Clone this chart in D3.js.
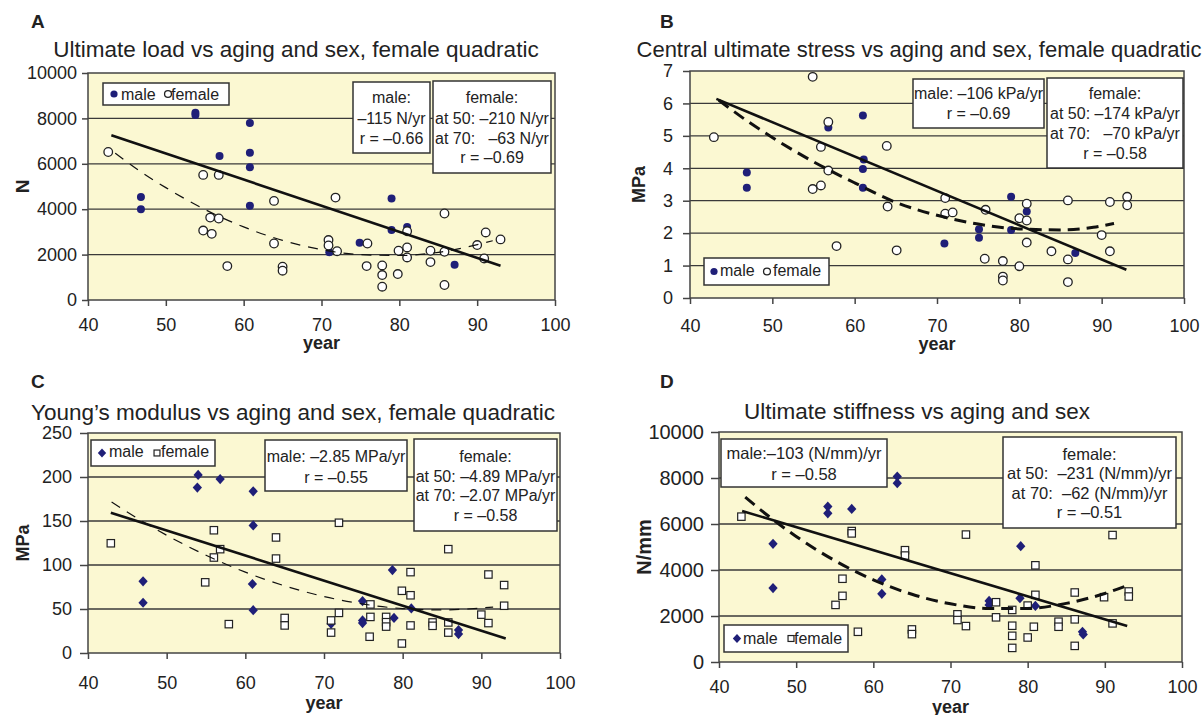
<!DOCTYPE html>
<html><head><meta charset="utf-8">
<script src="https://cdn.jsdelivr.net/npm/d3@7"></script>
<style>
body{margin:0;background:#fff}
svg{display:block}
text{font-family:"Liberation Sans",Arial,sans-serif;fill:#222}
</style>
</head><body>
<svg id="chart" width="1204" height="715"></svg>
<script>
// ---------- shared ----------
const xTicks = [40, 50, 60, 70, 80, 90, 100];
const legendLabels = ["male", "female"];

// ---------- Panel A : Ultimate load ----------
const aTitle = "Ultimate load vs aging and sex, female quadratic";
const aYTicks = [0, 2000, 4000, 6000, 8000, 10000];
const aMale = [[46.8,4540],[46.8,4000],[53.8,8250],[53.8,8150],[56.9,6340],[60.8,7800],[60.8,6490],[60.8,5850],[60.8,4150],[71,2100],[74.9,2520],[79,4470],[79,3080],[81,3220],[87.1,1550]];
const aFemale = [[42.6,6520],[54.8,5510],[56.8,5510],[55.7,3630],[56.8,3590],[54.8,3060],[55.9,2915],[57.9,1494],[63.9,4365],[63.9,2490],[65,1465],[65,1290],[70.9,2640],[70.9,2400],[71.8,4510],[72,2150],[75.9,2490],[75.8,1494],[77.8,1524],[77.8,1100],[77.8,586],[79.8,1143],[79.9,2170],[81,3030],[81,2315],[81,1875],[84,2170],[84,1670],[85.8,3810],[85.8,2125],[85.8,660],[90,2420],[91.1,2975],[90.9,1830],[93,2670]];
const aMaleFit = [[43,7260],[93,1510]];
const aFemaleFit = [[43.5,6470],[47,5600],[50,4950],[55,3990],[60,3220],[65,2630],[70,2220],[75,2000],[80,1960],[85,2100],[92,2610]];
const aMaleBox = ["male:", "\u2013115 N/yr", "r = \u20130.66"];
const aFemaleBox = ["female:", "at 50: \u2013210 N/yr", "at 70:   \u201363 N/yr", "r = \u20130.69"];

// ---------- Panel B : Central ultimate stress ----------
const bTitle = "Central ultimate stress vs aging and sex, female quadratic";
const bYTicks = [0, 1, 2, 3, 4, 5, 6, 7];
const bMale = [[46.9,3.87],[46.9,3.4],[56.8,5.26],[61,5.63],[61.1,4.27],[61,3.98],[61,3.4],[70.9,1.68],[75.1,2.12],[75.1,1.86],[79,3.12],[79,2.1],[80.9,2.67],[86.8,1.39]];
const bFemale = [[42.9,4.96],[54.9,6.82],[56.8,5.43],[55.9,4.66],[56.8,3.93],[63.9,4.69],[54.9,3.36],[55.9,3.47],[57.8,1.6],[64,2.82],[65.1,1.47],[71,3.08],[71,2.6],[71.9,2.64],[75.9,2.72],[75.8,1.21],[78,1.14],[78,0.66],[78,0.54],[80,2.46],[80,0.98],[80.9,2.91],[80.9,2.39],[80.9,1.71],[83.9,1.44],[85.9,3.01],[85.9,1.19],[85.9,0.49],[90,1.94],[91,2.96],[91,1.44],[93.1,3.12],[93.1,2.86]];
const bMaleFit = [[43.2,6.14],[93,0.87]];
const bFemaleFit = [[43.5,6.1],[47,5.45],[50,4.95],[55,4.2],[60,3.55],[65,2.95],[70,2.55],[75,2.28],[80,2.13],[85,2.1],[89,2.18],[91.5,2.3]];
const bMaleBox = ["male: \u2013106 kPa/yr", "r = \u20130.69"];
const bFemaleBox = ["female:", "at 50: \u2013174 kPa/yr", "at 70:   \u201370 kPa/yr", "r = \u20130.58"];

// ---------- Panel C : Young's modulus ----------
const cTitle = "Young\u2019s modulus vs aging and sex, female quadratic";
const cYTicks = [0, 50, 100, 150, 200, 250];
const cMale = [[47,81.5],[47,57.1],[53.9,188],[54,202.4],[56.8,197.6],[60.9,78.4],[61,48.6],[61,183.7],[61,145],[70.9,33.2],[74.9,59],[74.9,37],[74.9,34],[78.7,94.2],[78.9,39.8],[81.1,50.6],[87.1,26],[87.1,21.5]];
const cFemale = [[42.9,124.7],[54.9,80.3],[56,139.5],[56,108.5],[56.8,118],[57.9,32.8],[63.9,131.3],[63.9,107.3],[65,39.8],[65,31.3],[70.9,37],[70.9,23.2],[71.9,148],[71.9,45.6],[75.9,55.2],[75.9,41],[75.8,18.5],[77.9,41],[77.9,35],[77.9,30],[79.9,70.7],[79.9,10.8],[81,91.9],[81,65.6],[81,31.3],[83.8,34.7],[83.8,30.9],[85.8,118],[85.8,34.7],[85.8,23.2],[90,43.6],[90.9,89.2],[90.9,34],[92.9,77.2],[92.9,53.7]];
const cMaleFit = [[42.9,159.4],[93.1,16.6]];
const cFemaleFit = [[43,171.5],[46,154.5],[50,133.8],[55,111.1],[60,91.9],[65,76.3],[70,64.2],[75,55.6],[80,50.5],[85,49],[91.5,52.2]];
const cMaleBox = ["male: \u20132.85 MPa/yr", "r = \u20130.55"];
const cFemaleBox = ["female:", "at 50: \u20134.89 MPa/yr", "at 70: \u20132.07 MPa/yr", "r = \u20130.58"];

// ---------- Panel D : Ultimate stiffness ----------
const dTitle = "Ultimate stiffness vs aging and sex";
const dYTicks = [0, 2000, 4000, 6000, 8000, 10000];
const dMale = [[47,5139],[47,3212],[54.1,6756],[54.1,6465],[57.2,6655],[61.1,3591],[61.1,2964],[63.1,8065],[63.1,7775],[75,2657],[75,2482],[79.1,5036],[79,2774],[81,2438],[87.1,1314],[87.2,1197]];
const dFemale = [[42.9,6320],[55.1,2482],[56,3620],[56,2876],[57.2,5693],[57.2,5591],[58,1314],[64.1,4861],[64.1,4628],[65,1416],[65,1212],[70.9,2073],[70.9,1825],[72,5540],[72,1562],[75.9,2598],[75.9,1942],[78,2263],[78,1577],[78,1139],[78,613],[80,2453],[80,1066],[81,4204],[81,2920],[80.8,1533],[84,1752],[84,1533],[86.1,3022],[86.1,1854],[86.1,701],[89.9,2818],[91,5520],[91,1679],[93.1,3066],[93.1,2847]];
const dMaleFit = [[43,6567],[92.9,1562]];
const dFemaleFit = [[43.4,7167],[47,6190],[50,5460],[55,4410],[60,3570],[65,2944],[70,2530],[75,2324],[80,2331],[85,2549],[90,2980],[93.3,3378]];
const dMaleBox = ["male:\u2013103 (N/mm)/yr", "r = \u20130.58"];
const dFemaleBox = ["female:", "at 50:  \u2013231 (N/mm)/yr", "at 70:  \u201362 (N/mm)/yr", "r = \u20130.51"];

// ---------- drawing ----------
const svg = d3.select("#chart");
const NAVY = "#1f1f78", DARK = "#222", BG = "#fbf8d2", GRID = "#3a3a3a";

function marker(g, shape, filled, cx, cy, s) {
  if (shape === "circle") {
    g.append("circle").attr("cx", cx).attr("cy", cy).attr("r", s)
      .attr("fill", filled ? NAVY : "#fff").attr("stroke", filled ? NAVY : DARK)
      .attr("stroke-width", filled ? 0 : 1.3);
  } else if (shape === "diamond") {
    g.append("path").attr("d", d3.symbol(d3.symbolDiamond2, s * s * 2.2)())
      .attr("transform", `translate(${cx},${cy}) scale(1,1.1)`).attr("fill", NAVY);
  } else {
    g.append("rect").attr("x", cx - s).attr("y", cy - s).attr("width", 2 * s).attr("height", 2 * s)
      .attr("fill", "#fff").attr("stroke", DARK).attr("stroke-width", 1.2);
  }
}

function panel(o) {
  const g = svg.append("g");
  const x = d3.scaleLinear().domain([40, 100]).range([o.x0, o.x1]);
  const y = d3.scaleLinear().domain([o.yTicks[0], o.yTicks[o.yTicks.length - 1]]).range([o.y1, o.y0]);

  g.append("rect").attr("x", o.x0).attr("y", o.y0).attr("width", o.x1 - o.x0).attr("height", o.y1 - o.y0).attr("fill", BG);
  g.selectAll(".grid").data(o.yTicks.slice(1, -1)).join("line")
    .attr("x1", o.x0).attr("x2", o.x1).attr("y1", d => y(d)).attr("y2", d => y(d))
    .attr("stroke", GRID).attr("stroke-width", 1.3);

  // markers
  const mg = g.append("g");
  o.male.forEach(d => marker(mg, o.maleShape, true, x(d[0]), y(d[1]), o.ms));
  o.female.forEach(d => marker(mg, o.femaleShape, false, x(d[0]), y(d[1]), o.fs));

  // fits
  g.append("path").datum(o.maleFit)
    .attr("d", d3.line().x(d => x(d[0])).y(d => y(d[1])))
    .attr("fill", "none").attr("stroke", "#111").attr("stroke-width", 2.6);
  if (o.femaleFit) {
    g.append("path").datum(o.femaleFit)
      .attr("d", d3.line().curve(d3.curveMonotoneX).x(d => x(d[0])).y(d => y(d[1])))
      .attr("fill", "none").attr("stroke", "#111")
      .attr("stroke-width", o.thickDash ? 3 : 1.2)
      .attr("stroke-dasharray", o.thickDash ? "12,7" : "10,8");
  }

  // plot border
  g.append("rect").attr("x", o.x0).attr("y", o.y0).attr("width", o.x1 - o.x0).attr("height", o.y1 - o.y0)
    .attr("fill", "none").attr("stroke", "#444").attr("stroke-width", 1.5);

  // axes
  const ax = g.append("g").attr("transform", `translate(0,${o.y1})`)
    .call(d3.axisBottom(x).tickValues(xTicks).tickSize(6).tickPadding(o.xPad).tickFormat(d3.format("d")));
  ax.select(".domain").remove();
  ax.selectAll("line").attr("stroke", "#444").attr("stroke-width", 1.5);
  ax.selectAll("text").attr("font-size", o.xFont).attr("fill", DARK).attr("font-family", '"Liberation Sans",Arial,sans-serif');

  const ay = g.append("g").attr("transform", `translate(${o.x0},0)`)
    .call(d3.axisLeft(y).tickValues(o.yTicks).tickSize(o.yTick).tickPadding(o.yPad).tickFormat(d3.format("d")));
  ay.select(".domain").remove();
  ay.selectAll("line").attr("stroke", "#444").attr("stroke-width", 1.5);
  ay.selectAll("text").attr("font-size", o.yFont).attr("fill", DARK).attr("font-family", '"Liberation Sans",Arial,sans-serif');

  // axis titles
  g.append("text").attr("x", (o.x0 + o.x1) / 2).attr("y", o.yearY).attr("text-anchor", "middle")
    .attr("font-size", 18).attr("font-weight", "bold").text("year");
  g.append("text").attr("transform", `translate(${o.ylabX},${(o.y0 + o.y1) / 2}) rotate(-90)`)
    .attr("text-anchor", "middle").attr("dy", "0.36em")
    .attr("font-size", o.ylabFont).attr("font-weight", "bold").text(o.ylab);

  // panel letter & title
  g.append("text").attr("x", o.letterX).attr("y", o.letterY).attr("font-size", 19).attr("font-weight", "bold").text(o.letter);
  g.append("text").attr("x", o.titleX).attr("y", o.titleY).attr("text-anchor", "middle").attr("font-size", o.titleFont).text(o.title);

  // legend
  const L = o.legend;
  g.append("rect").attr("x", L.x).attr("y", L.y).attr("width", L.w).attr("height", L.h)
    .attr("fill", "#fff").attr("stroke", "#333").attr("stroke-width", 1.5);
  const cy = L.y + L.h / 2;
  marker(g, o.maleShape, true, L.x + L.m1, cy, o.ms * 0.9);
  g.append("text").attr("x", L.x + L.t1).attr("y", L.base).attr("font-size", 16).text(legendLabels[0]);
  marker(g, o.femaleShape, false, L.x + L.m2, cy, o.fs * 0.8);
  g.append("text").attr("x", L.x + L.t2).attr("y", L.base).attr("font-size", 16).text(legendLabels[1]);

  // stat boxes
  o.boxes.forEach(b => {
    g.append("rect").attr("x", b.x).attr("y", b.y).attr("width", b.w).attr("height", b.h)
      .attr("fill", "#fff").attr("stroke", "#333").attr("stroke-width", 1.5);
    b.lines.forEach((t, i) => {
      g.append("text").attr("x", b.x + b.w / 2).attr("y", b.base[i]).attr("text-anchor", "middle")
        .attr("font-size", b.font).style("white-space", "pre").text(t);
    });
  });
}

panel({
  letter: "A", letterX: 31, letterY: 28, title: aTitle, titleX: 296, titleY: 57, titleFont: 22.5,
  x0: 88, x1: 555, y0: 73, y1: 300, yTicks: aYTicks,
  male: aMale, female: aFemale, maleFit: aMaleFit, femaleFit: aFemaleFit, thickDash: false,
  maleShape: "circle", femaleShape: "circle", ms: 4, fs: 4.3,
  xPad: 12, xFont: 18, yTick: 6, yPad: 5, yFont: 18, yearY: 349,
  ylab: "N", ylabX: 22, ylabFont: 19,
  legend: { x: 103, y: 83, w: 126, h: 22, m1: 11, t1: 18, m2: 65, t2: 68, base: 100 },
  boxes: [
    { x: 353, y: 82, w: 77, h: 71, lines: aMaleBox, base: [103, 123.5, 143.5], font: 16 },
    { x: 433, y: 81, w: 118, h: 92, lines: aFemaleBox, base: [103, 123.5, 143.5, 163], font: 16 }
  ]
});

panel({
  letter: "B", letterX: 660, letterY: 28, title: bTitle, titleX: 919, titleY: 57, titleFont: 22,
  x0: 690, x1: 1184, y0: 71, y1: 298, yTicks: bYTicks,
  male: bMale, female: bFemale, maleFit: bMaleFit, femaleFit: bFemaleFit, thickDash: true,
  maleShape: "circle", femaleShape: "circle", ms: 4, fs: 4.3,
  xPad: 15, xFont: 18, yTick: 7, yPad: 10, yFont: 18, yearY: 350,
  ylab: "MPa", ylabX: 639, ylabFont: 18,
  legend: { x: 704, y: 258, w: 125, h: 27, m1: 10, t1: 16, m2: 63, t2: 69, base: 276 },
  boxes: [
    { x: 913, y: 79, w: 131, h: 49, lines: bMaleBox, base: [98.5, 118.5], font: 16 },
    { x: 1047, y: 78, w: 136, h: 90, lines: bFemaleBox, base: [98.5, 118.5, 139, 159], font: 16 }
  ]
});

panel({
  letter: "C", letterX: 31, letterY: 388, title: cTitle, titleX: 293, titleY: 420, titleFont: 22.5,
  x0: 88, x1: 560, y0: 433, y1: 653, yTicks: cYTicks,
  male: cMale, female: cFemale, maleFit: cMaleFit, femaleFit: cFemaleFit, thickDash: false,
  maleShape: "diamond", femaleShape: "square", ms: 5, fs: 3.7,
  xPad: 17, xFont: 18, yTick: 8, yPad: 8, yFont: 18, yearY: 709,
  ylab: "MPa", ylabX: 23, ylabFont: 18,
  legend: { x: 91, y: 440, w: 124, h: 26, m1: 11, t1: 18, m2: 66, t2: 70, base: 457 },
  boxes: [
    { x: 265, y: 440, w: 142, h: 51, lines: cMaleBox, base: [461.5, 482.5], font: 16 },
    { x: 414, y: 439, w: 143, h: 92, lines: cFemaleBox, base: [461.5, 481.5, 501, 520.5], font: 16 }
  ]
});

panel({
  letter: "D", letterX: 660, letterY: 388, title: dTitle, titleX: 917, titleY: 419, titleFont: 22.5,
  x0: 719, x1: 1182, y0: 432, y1: 662, yTicks: dYTicks,
  male: dMale, female: dFemale, maleFit: dMaleFit, femaleFit: dFemaleFit, thickDash: true,
  maleShape: "diamond", femaleShape: "square", ms: 5, fs: 3.7,
  xPad: 12, xFont: 18, yTick: 8, yPad: 7, yFont: 20, yearY: 712.5,
  ylab: "N/mm", ylabX: 644, ylabFont: 20,
  legend: { x: 724, y: 625, w: 124, h: 27, m1: 13, t1: 19, m2: 67, t2: 70, base: 644 },
  boxes: [
    { x: 721, y: 439, w: 166, h: 48, lines: dMaleBox, base: [458.5, 479.5], font: 16.5 },
    { x: 1003, y: 437, w: 173, h: 91, lines: dFemaleBox, base: [459.5, 479, 499, 518], font: 16.5 }
  ]
});
</script>
</body></html>
